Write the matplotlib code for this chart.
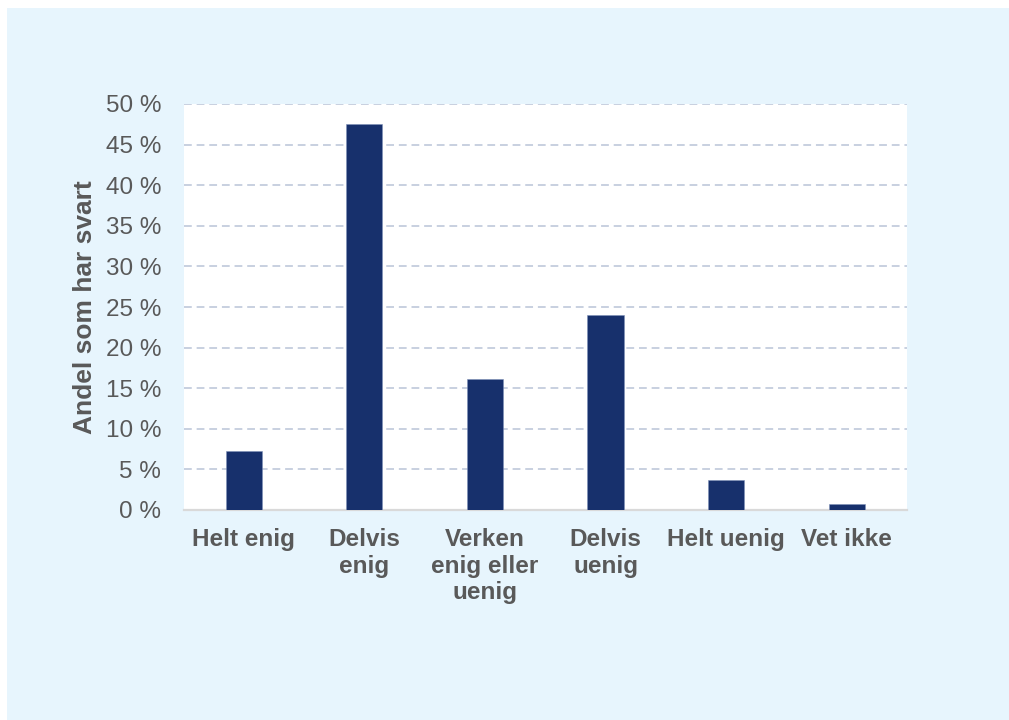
"""Bar chart: share of respondents per answer category (Norwegian survey)."""

import matplotlib.pyplot as plt
from matplotlib.patches import Rectangle
from matplotlib.ticker import FuncFormatter

PANEL = "#E7F5FD"
BAR = "#17306C"
TEXT = "#595959"
GRID = "#C8D0E0"
AXIS = "#D9D9D9"

categories = ["Helt enig", "Delvis\nenig", "Verken\nenig eller\nuenig",
              "Delvis\nuenig", "Helt uenig", "Vet ikke"]
shares = [7.3, 47.5, 16.1, 24.0, 3.7, 0.8]
y_ticks = [0, 5, 10, 15, 20, 25, 30, 35, 40, 45, 50]

plt.rcParams["font.family"] = ["Liberation Sans", "DejaVu Sans"]

fig = plt.figure(figsize=(10.09, 7.2), dpi=100)
fig.patch.set_facecolor("white")
fig.patches.append(Rectangle((7 / 1009, 0), 1, 712 / 720, transform=fig.transFigure,
                             facecolor=PANEL, edgecolor="none", zorder=-10))

ax = fig.add_axes([183.5 / 1009, 210 / 720, 723.5 / 1009, 406 / 720])
ax.set_facecolor("white")

x = range(len(categories))
ax.bar(x, shares, width=0.30, color=BAR, edgecolor="#7F90B8", linewidth=0.4, zorder=3)

ax.set_xlim(-0.5, len(categories) - 0.5)
ax.set_ylim(0, 50)
ax.set_yticks(y_ticks)
ax.yaxis.set_major_formatter(FuncFormatter(lambda v, _: f"{v:.0f} %"))
ax.yaxis.grid(True, color=GRID, linestyle=(0, (4, 2.5)), linewidth=1.4)
ax.set_axisbelow(True)

ax.set_xticks(list(x))
ax.set_xticklabels(categories, fontsize=17.5, fontweight="bold", color=TEXT,
                   linespacing=1.2)
ax.tick_params(axis="x", length=0, pad=13)
ax.tick_params(axis="y", length=0, pad=16, labelsize=17.5, labelcolor=TEXT)

for side in ("top", "right", "left"):
    ax.spines[side].set_visible(False)
ax.spines["bottom"].set_color(AXIS)
ax.spines["bottom"].set_linewidth(1.6)

ax.set_ylabel("Andel som har svart", fontsize=19, fontweight="bold", color=TEXT,
              va="center")
ax.yaxis.set_label_coords(-0.136, 0.5)

fig.savefig("out.png", dpi=100, facecolor="white")
